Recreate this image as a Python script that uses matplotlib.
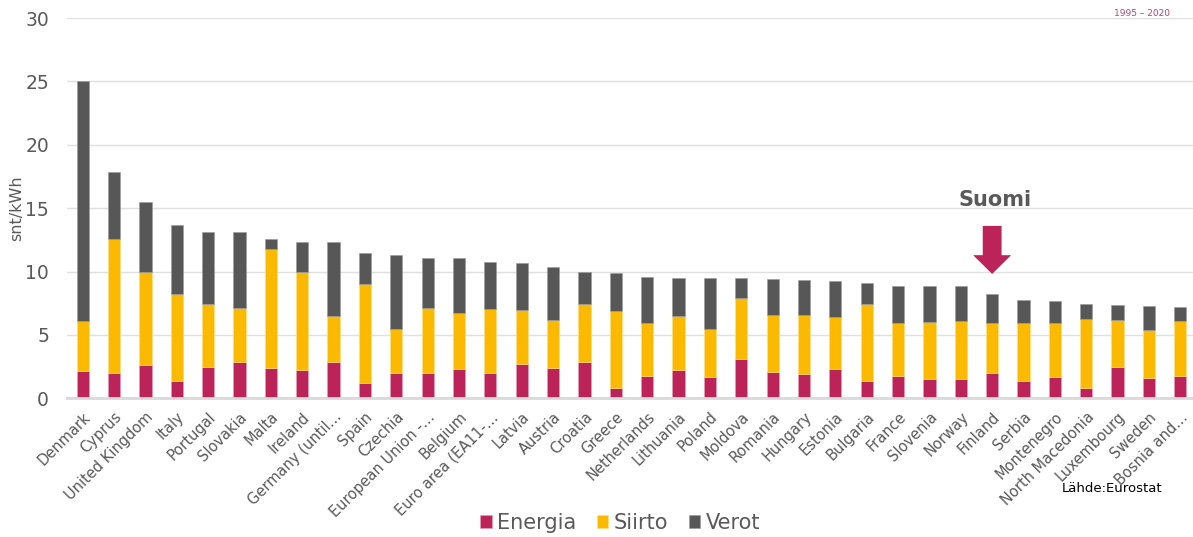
import matplotlib
matplotlib.use("Agg")
import matplotlib.pyplot as plt
from matplotlib.patches import FancyArrow
import numpy as np

categories = ["Denmark", "Cyprus", "United Kingdom", "Italy", "Portugal", "Slovakia", "Malta",
              "Ireland", "Germany (until…", "Spain", "Czechia", "European Union -…", "Belgium",
              "Euro area (EA11-…", "Latvia", "Austria", "Croatia", "Greece", "Netherlands",
              "Lithuania", "Poland", "Moldova", "Romania", "Hungary", "Estonia", "Bulgaria",
              "France", "Slovenia", "Norway", "Finland", "Serbia", "Montenegro",
              "North Macedonia", "Luxembourg", "Sweden", "Bosnia and…"]

# cumulative tops
energia = [2.15, 2.02, 2.65, 1.37, 2.47, 2.87, 2.39, 2.21, 2.87, 1.18, 2.02, 2.02, 2.32,
           2.02, 2.71, 2.39, 2.89, 0.84, 1.78, 2.26, 1.70, 3.10, 2.08, 1.92, 2.35, 1.37,
           1.78, 1.50, 1.50, 2.00, 1.37, 1.68, 0.81, 2.47, 1.60, 1.74]
siirto_top = [6.12, 12.60, 9.97, 8.26, 7.47, 7.13, 11.78, 9.97, 6.50, 9.02, 5.45, 7.10, 6.71,
              7.02, 6.97, 6.16, 7.47, 6.87, 5.97, 6.50, 5.47, 7.94, 6.60, 6.57, 6.40, 7.44,
              5.97, 6.02, 6.08, 5.94, 5.92, 5.94, 6.28, 6.20, 5.42, 6.08]
total = [25.0, 17.88, 15.47, 13.68, 13.13, 13.10, 12.55, 12.36, 12.34, 11.47, 11.29, 11.10,
         11.07, 10.76, 10.68, 10.36, 9.97, 9.91, 9.55, 9.52, 9.47, 9.47, 9.42, 9.31, 9.24,
         9.08, 8.84, 8.84, 8.84, 8.26, 7.78, 7.70, 7.44, 7.39, 7.31, 7.23]

siirto = [s - e for s, e in zip(siirto_top, energia)]
verot = [t - s for t, s in zip(total, siirto_top)]

series_names = ["Energia", "Siirto", "Verot"]
colors = ["#BC2358", "#FBB900", "#575757"]
yticks = [0, 5, 10, 15, 20, 25, 30]

highlight = "Finland"
highlight_label = "Suomi"

fig = plt.figure(figsize=(11.93, 5.37), dpi=100)
ax = fig.add_axes([67 / 1193, 1 - 398.3 / 537, 1129 / 1193, (398.3 - 18) / 537])

x = np.arange(len(categories))
w = 0.39
ax.bar(x, energia, w, color=colors[0], label=series_names[0], edgecolor="#e8a0b8", linewidth=0.4, zorder=3)
ax.bar(x, siirto, w, bottom=energia, color=colors[1], label=series_names[1], edgecolor="#fde08a", linewidth=0.4, zorder=3)
ax.bar(x, verot, w, bottom=siirto_top, color=colors[2], label=series_names[2], edgecolor="#9a9a9a", linewidth=0.4, zorder=3)

ax.set_xlim(-0.5, len(categories) - 0.5)
ax.set_ylim(0, 30)
ax.set_yticks(yticks)
ax.yaxis.grid(True, color="#e0e0e0", linewidth=1.0, zorder=0)
ax.set_axisbelow(True)
for s in ["top", "right", "left"]:
    ax.spines[s].set_visible(False)
ax.spines["bottom"].set_color("#d9d9d9")
ax.spines["bottom"].set_linewidth(2)
ax.spines["bottom"].set_zorder(4)
ax.tick_params(axis="y", length=0, pad=13, labelsize=13.5, labelcolor="#595959")
ax.tick_params(axis="x", length=0, pad=8, labelsize=10.5, labelcolor="#595959")
ax.set_xticks(x)
ax.set_xticklabels(categories, rotation=45, ha="right", rotation_mode="anchor")
ax.set_ylabel("snt/kWh", fontsize=11.5, color="#595959", labelpad=1)

# highlight arrow for Finland
hi = categories.index(highlight)
ax.add_patch(FancyArrow(hi, 13.6, 0, 9.81 - 13.6, width=0.6, head_width=1.21,
                        head_length=1.48, length_includes_head=True,
                        color="#BC2358", zorder=5, linewidth=0))
ax.text(hi + 0.08, 15.65, highlight_label, fontsize=15, fontweight="bold",
        color="#595959", ha="center", va="center")

leg = fig.legend(loc="center", bbox_to_anchor=(620 / 1193, 1 - 523 / 537), ncol=3,
                 frameon=False, fontsize=15, handlelength=0.55, handleheight=0.55,
                 handletextpad=0.25, columnspacing=1.0)
for t in leg.get_texts():
    t.set_color("#595959")

fig.text(1062 / 1193, 1 - 488 / 537, "Lähde:Eurostat", fontsize=9.5, color="black",
         ha="left", va="center", zorder=10)
fig.text(1142 / 1193, 1 - 14 / 537, "1995 – 2020", fontsize=6.5, color="#B5407A",
         ha="center", va="center")

fig.savefig("out.png", dpi=100)
